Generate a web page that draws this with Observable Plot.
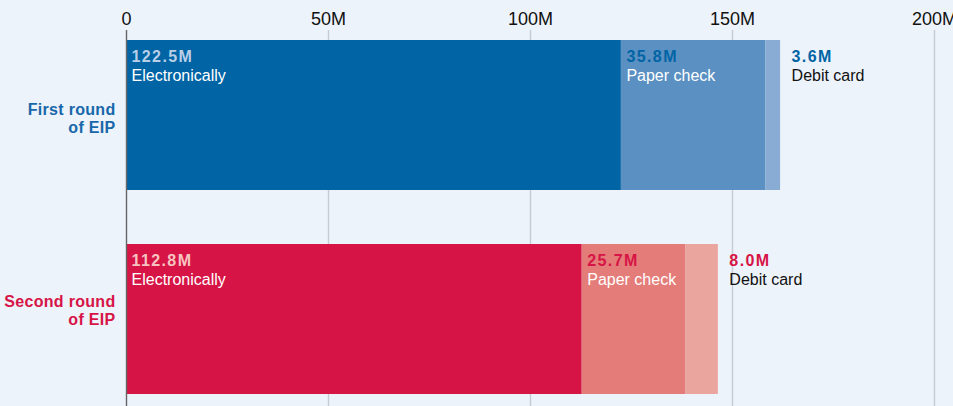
<!DOCTYPE html>
<html>
<head>
<meta charset="utf-8">
<script src="https://cdn.jsdelivr.net/npm/d3@7"></script>
<script src="https://cdn.jsdelivr.net/npm/@observablehq/plot@0.6"></script>
<style>
  html, body { margin: 0; padding: 0; background: #edf3fa; overflow: hidden; }
  #chart svg { display: block; font-family: "Liberation Sans", Arial, sans-serif; }
  .valtext text { letter-spacing: 1.4px; }
  .roundtext text { letter-spacing: 0.3px; }
</style>
</head>
<body>
<div id="chart"></div>
<script>
const rounds = ["First round\nof EIP", "Second round\nof EIP"];
const methods = ["Electronically", "Paper check", "Debit card"];
const firstRoundValues = [122.5, 35.8, 3.6];
const secondRoundValues = [112.8, 25.7, 8.0];
const tickValues = [0, 50, 100, 150, 200];
const tickLabels = ["0", "50M", "100M", "150M", "200M"];

const barColors = [
  ["#0064a5", "#5b90c2", "#89acd5"],
  ["#d71446", "#e47c79", "#eba59f"]
];
const valueColors = [
  ["#b9cfe8", "#0064a5", "#0064a5"],
  ["#f6c4c0", "#d71446", "#d71446"]
];
const roundColors = ["#1767aa", "#d71446"];

const rows = [];
[firstRoundValues, secondRoundValues].forEach((vals, r) => {
  let cum = 0;
  vals.forEach((v, i) => {
    rows.push({round: rounds[r], r, i, method: methods[i], value: v, x1: cum, x2: cum + v});
    cum += v;
  });
});
const inside = rows.filter(d => d.i < 2);
const outside = rows.filter(d => d.i === 2);

const chart = Plot.plot({
  width: 953,
  height: 406,
  marginTop: 30,
  marginBottom: 0,
  marginLeft: 126,
  marginRight: 19,
  style: {background: "#edf3fa", fontFamily: "'Liberation Sans', Arial, sans-serif", overflow: "visible"},
  x: {domain: [0, 200]},
  y: {domain: rounds, range: [40, 394], paddingInner: 54 / 204, paddingOuter: 0, axis: null},
  marks: [
    Plot.gridX(tickValues.slice(1), {stroke: "#c6cbd1", strokeOpacity: 1, strokeWidth: 1.4}),
    Plot.axisX({
      anchor: "top", ticks: tickValues, tickSize: 0, tickPadding: 6,
      tickFormat: d => tickLabels[tickValues.indexOf(d)],
      fontSize: 18, fill: "#111", label: null
    }),
    Plot.barX(rows, {x1: "x1", x2: "x2", y: "round", fill: d => barColors[d.r][d.i]}),
    Plot.ruleX([0], {stroke: "#666", strokeWidth: 1.4}),
    // value labels inside bars
    Plot.text(inside, {
      x: "x1", y: "round", text: d => d.value.toFixed(1) + "M",
      textAnchor: "start", dx: 5, dy: -59, fontSize: 16, fontWeight: "bold",
      fill: d => valueColors[d.r][d.i], className: "valtext"
    }),
    Plot.text(inside, {
      x: "x1", y: "round", text: "method",
      textAnchor: "start", dx: 5, dy: -40, fontSize: 16, fill: "#ffffff"
    }),
    // debit labels outside
    Plot.text(outside, {
      x: "x2", y: "round", text: d => d.value.toFixed(1) + "M",
      textAnchor: "start", dx: 11, dy: -59, fontSize: 16, fontWeight: "bold",
      fill: d => valueColors[d.r][d.i], className: "valtext"
    }),
    Plot.text(outside, {
      x: "x2", y: "round", text: "method",
      textAnchor: "start", dx: 11, dy: -40, fontSize: 16, fill: "#111"
    }),
    // round labels
    Plot.text([rounds[0]], {
      y: d => d, text: d => d, frameAnchor: "left", textAnchor: "end", dx: -11, dy: 3,
      fontSize: 16, fontWeight: "bold", lineHeight: 1.12, fill: roundColors[0], className: "roundtext"
    }),
    Plot.text([rounds[1]], {
      y: d => d, text: d => d, frameAnchor: "left", textAnchor: "end", dx: -11, dy: -9,
      fontSize: 16, fontWeight: "bold", lineHeight: 1.12, fill: roundColors[1], className: "roundtext"
    })
  ]
});
document.getElementById("chart").appendChild(chart);
</script>
</body>
</html>
